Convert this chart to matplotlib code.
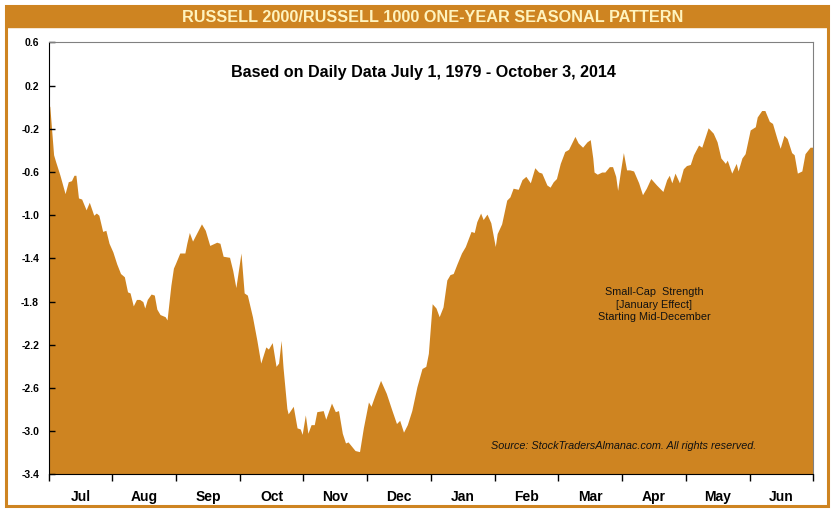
import numpy as np
import matplotlib.pyplot as plt
from matplotlib.patches import Rectangle

plt.rcParams['font.family'] = ['Liberation Sans', 'DejaVu Sans']
plt.rcParams['axes.unicode_minus'] = False

# position in months from July 1 (0..12) and seasonal ratio value
month_pos = [
    0.00, 0.02, 0.08, 0.11, 0.18, 0.26, 0.31, 0.36, 0.40, 0.43,
    0.47, 0.52, 0.59, 0.64, 0.71, 0.75, 0.79, 0.85, 0.90, 0.95,
    1.01, 1.07, 1.13, 1.19, 1.24, 1.28, 1.33, 1.38, 1.43, 1.48,
    1.51, 1.55, 1.61, 1.66, 1.70, 1.75, 1.83, 1.86, 1.92, 1.96,
    1.99, 2.06, 2.14, 2.17, 2.21, 2.26, 2.40, 2.46, 2.53, 2.64,
    2.69, 2.74, 2.84, 2.89, 2.94, 3.02, 3.07, 3.12, 3.20, 3.27,
    3.33, 3.41, 3.45, 3.51, 3.57, 3.61, 3.65, 3.68, 3.74, 3.76,
    3.84, 3.90, 3.95, 3.98, 4.03, 4.07, 4.12, 4.17, 4.21, 4.31,
    4.35, 4.44, 4.50, 4.55, 4.61, 4.66, 4.70, 4.81, 4.88, 4.94,
    5.02, 5.06, 5.12, 5.21, 5.30, 5.39, 5.46, 5.51, 5.57, 5.63,
    5.70, 5.78, 5.86, 5.92, 5.96, 6.02, 6.08, 6.13, 6.19, 6.25,
    6.30, 6.35, 6.41, 6.48, 6.54, 6.63, 6.68, 6.72, 6.78, 6.82,
    6.88, 6.94, 7.01, 7.04, 7.11, 7.19, 7.24, 7.29, 7.37, 7.43,
    7.49, 7.56, 7.63, 7.69, 7.74, 7.82, 7.87, 7.92, 7.97, 8.03,
    8.10, 8.16, 8.21, 8.26, 8.31, 8.38, 8.45, 8.50, 8.54, 8.56,
    8.61, 8.68, 8.73, 8.80, 8.85, 8.90, 8.93, 8.98, 9.02, 9.07,
    9.12, 9.18, 9.26, 9.32, 9.38, 9.45, 9.54, 9.64, 9.70, 9.74,
    9.78, 9.83, 9.90, 9.96, 10.01, 10.07, 10.12, 10.20, 10.25, 10.35,
    10.43, 10.49, 10.55, 10.62, 10.65, 10.72, 10.79, 10.82, 10.88, 10.93,
    11.01, 11.09, 11.12, 11.19, 11.24, 11.31, 11.36, 11.43, 11.48, 11.54,
    11.59, 11.66, 11.70, 11.75, 11.82, 11.87, 11.95, 12.00,
]
ratio = [
    0.00, 0.01, -0.44, -0.50, -0.63, -0.80, -0.69, -0.68, -0.63, -0.63,
    -0.84, -0.85, -0.95, -0.88, -1.00, -0.98, -1.00, -1.15, -1.14, -1.26,
    -1.34, -1.45, -1.54, -1.57, -1.71, -1.72, -1.84, -1.78, -1.78, -1.80,
    -1.86, -1.78, -1.73, -1.74, -1.87, -1.92, -1.94, -1.97, -1.65, -1.49,
    -1.45, -1.35, -1.35, -1.26, -1.16, -1.24, -1.08, -1.14, -1.28, -1.25,
    -1.26, -1.38, -1.39, -1.51, -1.67, -1.35, -1.72, -1.74, -1.94, -2.16,
    -2.37, -2.22, -2.24, -2.18, -2.40, -2.37, -2.16, -2.41, -2.79, -2.84,
    -2.77, -2.97, -2.98, -3.03, -2.85, -3.02, -2.94, -2.94, -2.82, -2.81,
    -2.89, -2.74, -2.82, -2.81, -3.02, -3.11, -3.10, -3.18, -3.19, -2.97,
    -2.73, -2.77, -2.67, -2.53, -2.65, -2.81, -2.93, -2.90, -3.01, -2.94,
    -2.81, -2.59, -2.42, -2.40, -2.28, -1.82, -1.86, -1.94, -1.85, -1.60,
    -1.55, -1.54, -1.45, -1.35, -1.29, -1.15, -1.16, -1.06, -0.98, -1.04,
    -0.99, -1.07, -1.29, -1.17, -1.08, -0.86, -0.83, -0.75, -0.76, -0.67,
    -0.64, -0.70, -0.56, -0.60, -0.61, -0.72, -0.74, -0.69, -0.66, -0.52,
    -0.41, -0.39, -0.33, -0.27, -0.33, -0.37, -0.32, -0.30, -0.47, -0.60,
    -0.62, -0.60, -0.60, -0.55, -0.55, -0.64, -0.77, -0.57, -0.42, -0.58,
    -0.58, -0.59, -0.70, -0.81, -0.75, -0.66, -0.72, -0.78, -0.67, -0.63,
    -0.70, -0.61, -0.70, -0.57, -0.54, -0.53, -0.44, -0.35, -0.37, -0.19,
    -0.24, -0.32, -0.47, -0.52, -0.49, -0.61, -0.52, -0.59, -0.47, -0.43,
    -0.21, -0.18, -0.09, -0.03, -0.03, -0.13, -0.15, -0.29, -0.38, -0.26,
    -0.29, -0.42, -0.44, -0.61, -0.59, -0.43, -0.37, -0.37,
]
months = ["Jul", "Aug", "Sep", "Oct", "Nov", "Dec",
          "Jan", "Feb", "Mar", "Apr", "May", "Jun"]
y_ticks = [0.6, 0.2, -0.2, -0.6, -1.0, -1.4, -1.8, -2.2, -2.6, -3.0, -3.4]

orange = "#CE8421"
W, H = 835, 513

fig = plt.figure(figsize=(W / 100, H / 100), dpi=100)

# outer frame and title bar
fig.patches.append(Rectangle((6 / W, (H - 506) / H), 822 / W, 500 / H,
                             transform=fig.transFigure, fill=False,
                             edgecolor=orange, linewidth=2.2))
fig.patches.append(Rectangle((6 / W, (H - 27) / H), 822 / W, 21 / H,
                             transform=fig.transFigure, facecolor=orange,
                             edgecolor=orange, linewidth=1))
fig.text(432.5 / W, 1 - 17 / H, "RUSSELL 2000/RUSSELL 1000 ONE-YEAR SEASONAL PATTERN",
         ha="center", va="center", fontsize=11.7, fontweight="bold", color="#FFF3BE")

ax = fig.add_axes([48.5 / W, (H - 474.3) / H, (813.3 - 48.5) / W, (474.3 - 42.5) / H])
x = np.array(month_pos)
y = np.array(ratio)
ax.fill_between(x, y, -3.4, color=orange, linewidth=0)

ax.set_xlim(0, 12)
ax.set_ylim(-3.4, 0.6)
ax.set_yticks(y_ticks)
ax.set_yticklabels([f"{t:.1f}" for t in y_ticks], fontsize=7.5, fontweight="bold")
ax.tick_params(axis="y", direction="in", length=4, width=1, pad=6.8)

ax.set_xticks(np.arange(0, 13))
ax.set_xticklabels([])
ax.set_xticks(np.arange(12) + 0.5, minor=True)
ax.set_xticklabels(months, minor=True, fontsize=10, fontweight="bold")
ax.tick_params(axis="x", which="major", direction="out", length=5, width=1)
ax.tick_params(axis="x", which="minor", length=0, pad=11.5)

for s in ["top", "right"]:
    ax.spines[s].set_color("#808080")
for s in ["left", "bottom"]:
    ax.spines[s].set_color("black")

ax.text(0.49, 0.931, "Based on Daily Data July 1, 1979 - October 3, 2014",
        transform=ax.transAxes, ha="center", va="center",
        fontsize=11.6, fontweight="bold")
ax.text(9.50, -1.83, "Small-Cap  Strength\n[January Effect]\nStarting Mid-December",
        ha="center", va="center", fontsize=7.8, linespacing=1.3, color="#111111")
ax.text(9.03, -3.14, "Source: StockTradersAlmanac.com. All rights reserved.",
        ha="center", va="center", fontsize=7.8, style="italic", color="#111111")

fig.savefig("out.png", dpi=100)
